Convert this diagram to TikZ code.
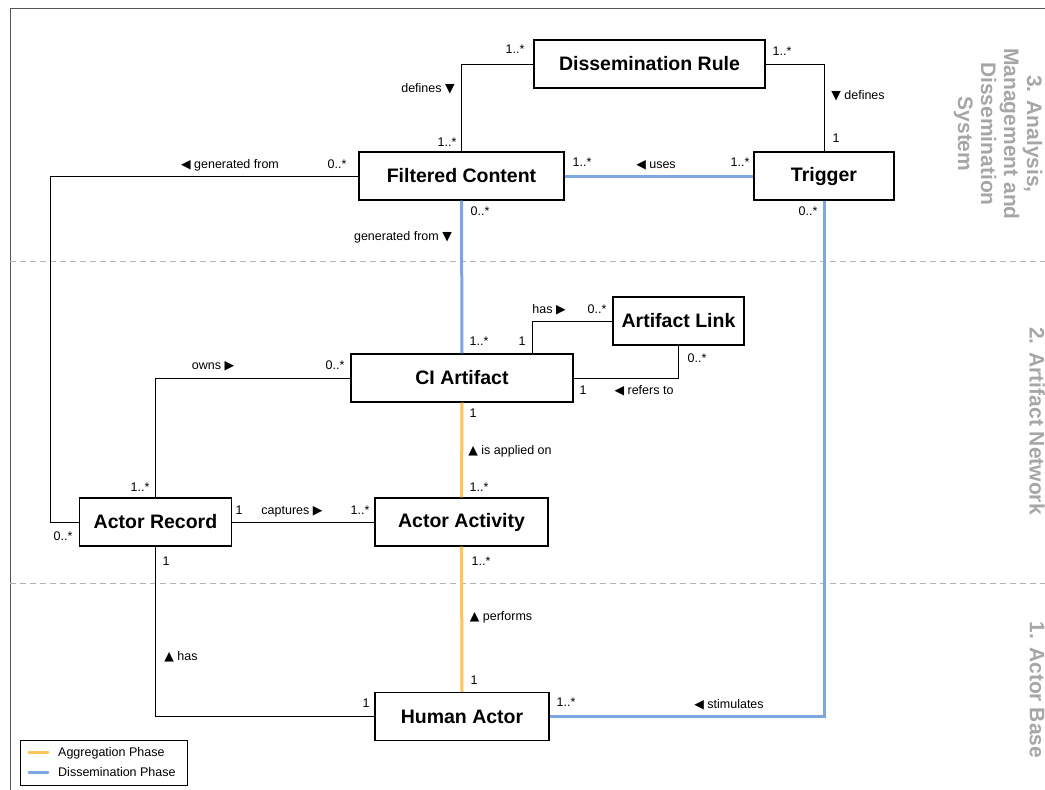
\documentclass[tikz,border=0pt]{standalone}
\usepackage{fontspec}
\setmainfont{Liberation Sans}
\newfontfamily\symfont{DejaVu Sans}[Scale=1.0]
\usetikzlibrary{calc}
\definecolor{aggorange}{HTML}{FFC458}
\definecolor{disblue}{HTML}{7EA6E0}
\definecolor{secgray}{HTML}{A6A6A6}
\definecolor{lanegray}{HTML}{B3B3B3}
\definecolor{framegray}{HTML}{555555}
\newcommand{\tdown}{{\symfont ▼}}
\newcommand{\tup}{{\symfont ▲}}
\newcommand{\tleft}{{\symfont ◀}}
\newcommand{\tright}{{\symfont ▶}}

\begin{document}
\begin{tikzpicture}[
  x=1pt, y=-1pt,
  every node/.style={font=\fontsize{12.5}{14}\selectfont},
  cls/.style={rectangle, draw, line width=1.2pt, fill=white, minimum height=48pt, inner sep=0pt, font=\fontsize{19.5}{22}\selectfont\bfseries},
  lbl/.style={inner sep=0pt, text height=9pt, text depth=2.5pt},
  assoc/.style={draw, line width=1pt},
  aggline/.style={draw=aggorange, line width=3pt},
  disline/.style={draw=disblue, line width=3pt},
  laneline/.style={draw=lanegray, line width=1pt, dash pattern=on 6pt off 4pt},
  seclabel/.style={rotate=-90, text=secgray, align=center, inner sep=0pt, font=\fontsize{21}{23}\selectfont\bfseries},
]
\useasboundingbox (0,0) rectangle (1045,790);

% Frame and lanes
\draw[framegray, line width=1pt] (1045,8) -- (10,8) -- (10,790);
\draw[laneline] (10,261) -- (1045,261);
\draw[laneline] (10,583) -- (1045,583);

% Lane titles
\node[seclabel] (lane3) at (998,134) {3. Analysis,\\Management and\\Dissemination\\System};
\node[seclabel] (lane2) at (1037,421) {2. Artifact Network};
\node[seclabel] (lane1) at (1037,690) {1. Actor Base};

% Classes
\node[cls, minimum width=231pt] (rule) at (649.5,64) {Dissemination Rule};
\node[cls, minimum width=205pt] (filt) at (461.5,176) {Filtered Content};
\node[cls, minimum width=140pt] (trig) at (824,176) {Trigger};
\node[cls, minimum width=131pt] (alink) at (678.5,321) {Artifact Link};
\node[cls, minimum width=222pt] (ciart) at (462,378) {CI Artifact};
\node[cls, minimum width=152pt] (arec) at (155.5,522) {Actor Record};
\node[cls, minimum width=173pt] (aact) at (461.5,522) {Actor Activity};
\node[cls, minimum width=174pt] (hact) at (462,716.5) {Human Actor};

\coordinate (genbend) at (50,176);

% Associations
\draw[assoc] (rule.west) -| (filt.north);
\draw[assoc] (rule.east) -| (trig.north);
\draw[assoc] (filt.west) -- (genbend) |- (arec.west);
\draw[assoc] ([xshift=-41pt]ciart.north east) |- (alink.west);
\draw[assoc] (ciart.east) -| (alink.south);
\draw[assoc] (ciart.west) -| (arec.north);
\draw[assoc] (arec.east) -- (aact.west);
\draw[assoc] (arec.south) |- (hact.west);

% Phases
\draw[disline] (filt.east) -- (trig.west);
\draw[disline] (filt.south) -- (ciart.north);
\draw[disline] (trig.south) |- (hact.east);
\draw[aggline] (ciart.south) -- (aact.north);
\draw[aggline] (aact.south) -- (hact.north);

% Roles and multiplicities
\node[lbl] (m1) at (515,50) {1..*};
\node[lbl] (r1) at (428,89) {defines \tdown};
\node[lbl] (m2) at (447,143) {1..*};
\node[lbl] (m3) at (782,52) {1..*};
\node[lbl] (r2) at (858,96) {\tdown{} defines};
\node[lbl] (m4) at (836,139) {1};
\node[lbl] (r3) at (230,165) {\tleft{} generated from};
\node[lbl] (m5) at (337,165) {0..*};
\node[lbl] (m6) at (582,163) {1..*};
\node[lbl] (r4) at (656,165) {\tleft{} uses};
\node[lbl] (m7) at (740,163) {1..*};
\node[lbl] (m8) at (480,212) {0..*};
\node[lbl] (r5) at (403,237) {generated from \tdown};
\node[lbl] (m9) at (808,212) {0..*};
\node[lbl] (m10) at (479,342) {1..*};
\node[lbl] (r6) at (549,310) {has \tright};
\node[lbl] (m11) at (597,310) {0..*};
\node[lbl] (m12) at (522,342) {1};
\node[lbl] (m13) at (697,359) {0..*};
\node[lbl] (m14) at (583,391) {1};
\node[lbl] (r7) at (644,391) {\tleft{} refers to};
\node[lbl] (r8) at (213,366) {owns \tright};
\node[lbl] (m15) at (335,366) {0..*};
\node[lbl] (m16) at (473,414) {1};
\node[lbl] (r9) at (510,451) {\tup{} is applied on};
\node[lbl] (m17) at (140,488) {1..*};
\node[lbl] (m18) at (479,488) {1..*};
\node[lbl] (m19) at (239,511) {1};
\node[lbl] (r10) at (292,511) {captures \tright};
\node[lbl] (m20) at (360,511) {1..*};
\node[lbl] (m21) at (63,537) {0..*};
\node[lbl] (m22) at (166,562) {1};
\node[lbl] (m23) at (481,562) {1..*};
\node[lbl] (r11) at (181,657) {\tup{} has};
\node[lbl] (r12) at (501,617) {\tup{} performs};
\node[lbl] (m24) at (474,681) {1};
\node[lbl] (m25) at (366,704) {1};
\node[lbl] (m26) at (566,703) {1..*};
\node[lbl] (r13) at (729,705) {\tleft{} stimulates};

% Legend
\node[draw, line width=1pt, minimum width=167pt, minimum height=45pt, inner sep=0pt] (legend) at (103.5,762.5) {};
\draw[aggline, line cap=round] (29,752) -- (48,752);
\draw[disline, line cap=round] (29,772) -- (48,772);
\node[lbl, anchor=base west] (aggtxt) at (58,756.5) {Aggregation Phase};
\node[lbl, anchor=base west] (distxt) at (58,776.5) {Dissemination Phase};

\end{tikzpicture}
\end{document}
